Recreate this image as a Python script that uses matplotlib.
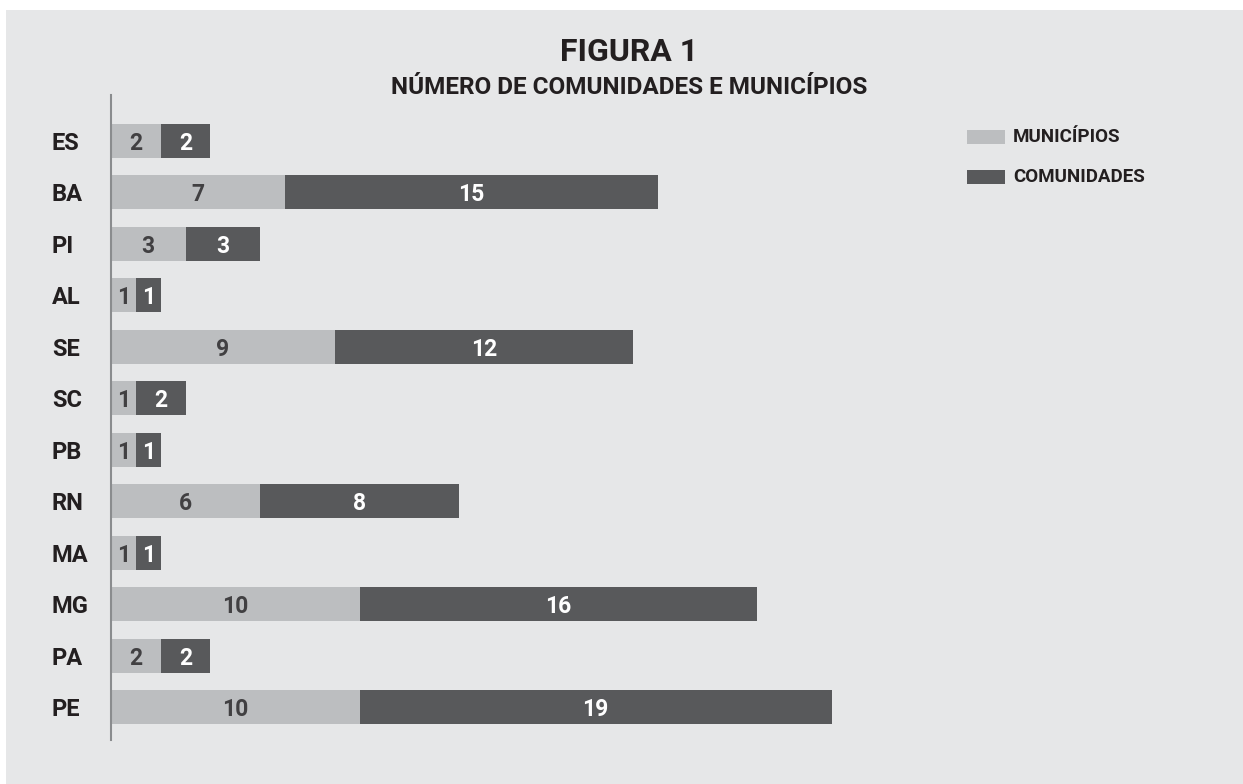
import matplotlib
matplotlib.use("Agg")
import matplotlib.pyplot as plt
from matplotlib.patches import Rectangle

plt.rcParams['font.family'] = ['Roboto', 'DejaVu Sans']

states = ["ES", "BA", "PI", "AL", "SE", "SC", "PB", "RN", "MA", "MG", "PA", "PE"]
municipios = [2, 7, 3, 1, 9, 1, 1, 6, 1, 10, 2, 10]
comunidades = [2, 15, 3, 1, 12, 2, 1, 8, 1, 16, 2, 19]
title = "FIGURA 1"
subtitle = "NÚMERO DE COMUNIDADES E MUNICÍPIOS"
legend_labels = ["MUNICÍPIOS", "COMUNIDADES"]

c_light = "#bcbec0"
c_dark = "#58595b"
c_bg = "#e6e7e8"
c_text = "#231f20"

W, H = 1243, 784
fig = plt.figure(figsize=(W / 100, H / 100), dpi=100, facecolor="white")

def fx(px):
    return px / W

def fy(py):
    return 1 - py / H

# gray panel
fig.add_artist(Rectangle((fx(6), 0), 1 - fx(6), fy(10), transform=fig.transFigure,
                         facecolor=c_bg, edgecolor="none", zorder=0))

ax = fig.add_axes([fx(111), fy(740), fx(111 + 45 * 24.85) - fx(111), fy(95) - fy(740)])
ax.set_facecolor("none")
ypos = list(range(len(states)))
b1 = ax.barh(ypos, municipios, height=0.66, color=c_light, label=legend_labels[0])
b2 = ax.barh(ypos, comunidades, left=municipios, height=0.66, color=c_dark, label=legend_labels[1])
ax.set_xlim(0, 45)
ax.set_ylim(11 + 33 / 51.45, -46 / 51.45)

for s in ["top", "right", "bottom"]:
    ax.spines[s].set_visible(False)
ax.spines["left"].set_color("#8a8c8e")
ax.spines["left"].set_linewidth(1.5)
ax.set_xticks([])
ax.set_yticks(ypos)
ax.set_yticklabels(states, fontsize=17, fontweight="bold", color=c_text, ha="left")
ax.tick_params(axis="y", length=0, pad=42.5)

for i in ypos:
    m, c = municipios[i], comunidades[i]
    ax.text(m / 2, i, str(m), ha="center", va="center_baseline", fontsize=16.5,
            fontweight="bold", color="#414042")
    ax.text(m + c / 2, i, str(c), ha="center", va="center_baseline", fontsize=16.5,
            fontweight="bold", color="white")

fig.text(fx(629), fy(52), title, ha="center", va="center", fontsize=23,
         fontweight="bold", color=c_text)
fig.text(fx(629), fy(87), subtitle, ha="center", va="center", fontsize=17.5,
         fontweight="bold", color=c_text)

# legend
for k, (lab, col) in enumerate(zip(legend_labels, [c_light, c_dark])):
    y0 = 130 + 40 * k
    fig.add_artist(Rectangle((fx(967), fy(y0 + 14)), fx(38), 14 / H, transform=fig.transFigure,
                             facecolor=col, edgecolor="none"))
    fig.text(fx(1013), fy(y0 + 7), lab, ha="left", va="center", fontsize=13.5,
             fontweight="bold", color=c_text)

fig.savefig("out.png", dpi=100, facecolor="white")
